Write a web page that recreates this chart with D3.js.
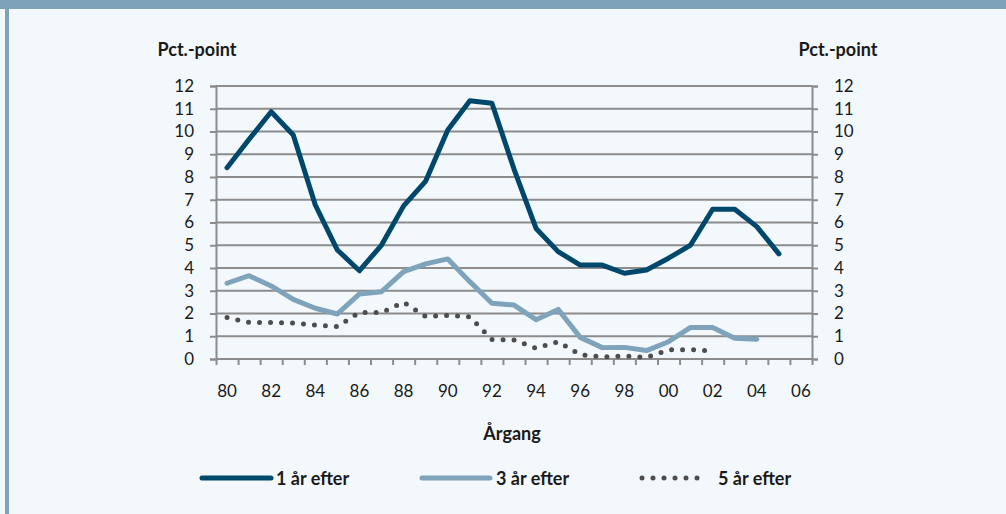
<!DOCTYPE html>
<html>
<head>
<meta charset="utf-8">
<script src="https://cdn.jsdelivr.net/npm/d3@7/dist/d3.min.js"></script>
<style>
  html, body { margin: 0; padding: 0; background: #f3f8fd; }
  svg { display: block; }
  text { font-family: Lato, "Open Sans", sans-serif; fill: #1a1a1a; }
</style>
</head>
<body>
<svg id="chart" width="1006" height="514"></svg>
<script>
// ---- data ----
const years = d3.range(1980, 2007);
const xTickLabels = ["80","82","84","86","88","90","92","94","96","98","00","02","04","06"];
const yTicks = [0,1,2,3,4,5,6,7,8,9,10,11,12];
const seriesNames = ["1 år efter", "3 år efter", "5 år efter"];
const oneYear = [8.41, 9.66, 10.87, 9.85, 6.77, 4.79, 3.88, 5.01, 6.73, 7.82, 10.07, 11.35, 11.24, 8.35, 5.74, 4.72, 4.13, 4.13, 3.77, 3.91, 4.43, 5.01, 6.58, 6.58, 5.82, 4.62];
const threeYear = [3.33, 3.66, 3.21, 2.62, 2.23, 1.98, 2.86, 2.96, 3.84, 4.18, 4.40, 3.40, 2.45, 2.37, 1.73, 2.18, 0.95, 0.50, 0.51, 0.37, 0.76, 1.39, 1.38, 0.91, 0.87];
const fiveYear = [1.82, 1.61, 1.60, 1.58, 1.49, 1.42, 2.05, 2.04, 2.49, 1.86, 1.92, 1.85, 0.86, 0.84, 0.47, 0.76, 0.19, 0.09, 0.13, 0.07, 0.40, 0.41, 0.35];

(function () {
const W = 1006, H = 514;
const svg = d3.select("#chart");

// background frame
svg.append("rect").attr("x",0).attr("y",0).attr("width",W).attr("height",H).attr("fill","#f3f8fd");
svg.append("rect").attr("x",0).attr("y",0).attr("width",W).attr("height",9).attr("fill","#7ea2b8");
svg.append("rect").attr("x",5).attr("y",9).attr("width",4).attr("height",H-9).attr("fill","#7ea2b8");

const pl = 216, pr = 812, pt = 86, pb = 359;
const x = d3.scaleBand().domain(years).range([pl, pr]).paddingInner(0).paddingOuter(0);
const y = d3.scaleLinear().domain([0, 12]).range([pb, pt]);
const cx = yr => x(yr) + x.bandwidth() / 2;

const gridColor = "#8c8c8c";
const tickFont = 17, boldFont = 18;

// gridlines
svg.append("g").selectAll("line").data(yTicks.filter(v => v > 0)).join("line")
  .attr("x1", pl).attr("x2", pr)
  .attr("y1", d => y(d)).attr("y2", d => y(d))
  .attr("stroke", gridColor).attr("stroke-width", 2);

// left axis
const yAxisL = d3.axisLeft(y).tickValues(yTicks).tickSize(6).tickPadding(16).tickFormat(d3.format("d"));
const gL = svg.append("g").attr("transform", `translate(${pl},0)`).call(yAxisL);
// right axis
const yAxisR = d3.axisRight(y).tickValues(yTicks).tickSize(6).tickPadding(16).tickFormat(d3.format("d"));
const gR = svg.append("g").attr("transform", `translate(${pr},0)`).call(yAxisR);

// bottom axis: ticks at band boundaries
const xb = d3.scaleLinear().domain([0, years.length]).range([pl, pr]);
const gB = svg.append("g").attr("transform", `translate(0,${pb})`)
  .call(d3.axisBottom(xb).tickValues(d3.range(0, years.length + 1)).tickSize(6).tickFormat(""));

[gL, gR, gB].forEach(g => {
  g.select(".domain").attr("stroke", gridColor).attr("stroke-width", 2);
  g.selectAll(".tick line").attr("stroke", gridColor).attr("stroke-width", 2);
  g.selectAll(".tick text").attr("font-size", tickFont).attr("font-family", "Lato, 'Open Sans', sans-serif").attr("fill", "#1a1a1a");
});
gB.select(".domain").attr("d", `M${pl},0H${pr}`);

// x labels (every other year)
const labelYears = years.filter((d, i) => i % 2 === 0);
svg.append("g").selectAll("text").data(labelYears).join("text")
  .attr("x", d => cx(d)).attr("y", 397)
  .attr("text-anchor", "middle").attr("font-size", tickFont)
  .text((d, i) => xTickLabels[i]);

// axis titles
svg.append("text").attr("x", 197).attr("y", 56).attr("text-anchor", "middle")
  .attr("font-size", boldFont).attr("font-weight", "bold").text("Pct.-point");
svg.append("text").attr("x", 838).attr("y", 56).attr("text-anchor", "middle")
  .attr("font-size", boldFont).attr("font-weight", "bold").text("Pct.-point");
svg.append("text").attr("x", 512).attr("y", 440).attr("text-anchor", "middle")
  .attr("font-size", boldFont).attr("font-weight", "bold").text("Årgang");

// lines
const line = d3.line().x((d, i) => cx(years[i])).y(d => y(d));
const series = [
  { values: oneYear, color: "#00476c", width: 5, dash: null },
  { values: threeYear, color: "#7fa3ba", width: 5, dash: null },
  { values: fiveYear, color: "#4d4d4d", width: 5, dash: "0,11" }
];
series.forEach(s => {
  svg.append("path").datum(s.values)
    .attr("d", line)
    .attr("fill", "none")
    .attr("stroke", s.color)
    .attr("stroke-width", s.width)
    .attr("stroke-linejoin", "round")
    .attr("stroke-linecap", "round")
    .attr("stroke-dasharray", s.dash);
});

// legend
const legendItems = [
  { x1: 202, x2: 271, tx: 276 },
  { x1: 422, x2: 490, tx: 496 },
  { x1: 642, x2: 703, tx: 718 }
];
const lg = svg.append("g");
series.forEach((s, i) => {
  const it = legendItems[i];
  lg.append("line").attr("x1", it.x1).attr("x2", it.x2).attr("y1", 478).attr("y2", 478)
    .attr("stroke", s.color).attr("stroke-width", 5).attr("stroke-linecap", "round")
    .attr("stroke-dasharray", s.dash);
  lg.append("text").attr("x", it.tx).attr("y", 485).attr("font-size", boldFont).attr("font-weight", "bold")
    .text(seriesNames[i]);
});
})();
</script>
</body>
</html>
